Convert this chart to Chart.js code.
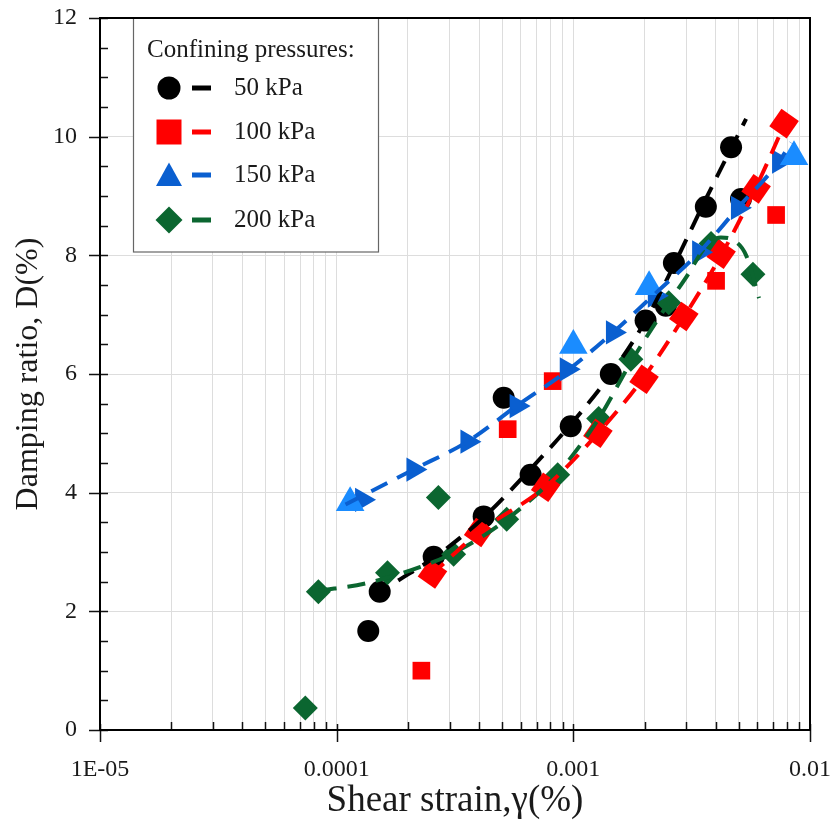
<!DOCTYPE html>
<html>
<head>
<meta charset="utf-8">
<script src="https://cdn.jsdelivr.net/npm/chart.js@4.4.1/dist/chart.umd.min.js"></script>
<style>
  body { margin: 0; background: #fff; }
  canvas { display: block; }
</style>
</head>
<body>
<canvas id="myChart" width="834" height="827"></canvas>
<script>
// values (strain in %, damping ratio in %)
const strain50 = [1.36e-4, 1.52e-4, 2.57e-4, 4.18e-4, 5.08e-4, 6.6e-4, 9.75e-4, 1.44e-3, 2.02e-3, 2.46e-3, 2.66e-3, 3.63e-3, 4.64e-3, 5.11e-3];
const damping50 = [1.67, 2.33, 2.92, 3.6, 5.6, 4.3, 5.12, 6.0, 6.9, 7.15, 7.87, 8.82, 9.82, 8.95];

const strain100 = [2.54e-4, 3.98e-4, 7.64e-4, 1.27e-3, 1.99e-3, 2.93e-3, 4.21e-3, 5.92e-3, 7.77e-3];
const damping100 = [2.63, 3.33, 4.09, 5.0, 5.91, 6.97, 8.02, 9.12, 10.22];
const strain100b = [2.28e-4, 5.28e-4, 8.18e-4, 4.01e-3, 7.19e-3];
const damping100b = [1.0, 5.07, 5.88, 7.57, 8.68];

const strain150 = [1.28e-4, 2.11e-4, 3.57e-4, 5.76e-4, 9.38e-4, 1.47e-3, 2.21e-3, 3.4e-3, 4.96e-3, 7.4e-3];
const damping150 = [3.88, 4.39, 4.86, 5.46, 6.08, 6.7, 7.32, 8.05, 8.8, 9.58];
const strain150b = [1.14e-4, 1.0e-3, 2.09e-3, 8.56e-3];
const damping150b = [3.83, 6.48, 7.47, 9.66];

const strain200 = [7.37e-5, 8.37e-5, 1.64e-4, 2.69e-4, 3.12e-4, 5.23e-4, 8.59e-4, 1.28e-3, 1.75e-3, 2.53e-3, 3.82e-3, 5.74e-3];
const damping200 = [0.37, 2.33, 2.65, 3.92, 2.96, 3.55, 4.3, 5.25, 6.25, 7.2, 8.2, 7.68];

// dashed trend curves
const fitStrain50 = [1.82e-4, 2.57e-4, 3.57e-4, 4.18e-4, 6.6e-4, 9.75e-4, 1.44e-3, 2.02e-3, 2.71e-3, 3.63e-3, 5.37e-3];
const fitDamping50 = [2.52, 2.9, 3.34, 3.58, 4.4, 5.15, 6.0, 6.9, 7.9, 8.95, 10.3];
const fitStrain100 = [2.49e-4, 3.98e-4, 7.64e-4, 1.27e-3, 1.99e-3, 2.93e-3, 4.21e-3, 5.92e-3, 8.08e-3];
const fitDamping100 = [2.6, 3.33, 4.1, 5.0, 5.95, 6.96, 8.0, 9.15, 10.35];
const fitStrain150 = [1.09e-4, 2.11e-4, 3.57e-4, 5.76e-4, 9.38e-4, 1.47e-3, 2.21e-3, 3.4e-3, 4.96e-3, 7.4e-3, 8.32e-3];
const fitDamping150 = [3.8, 4.39, 4.86, 5.46, 6.05, 6.7, 7.35, 8.05, 8.8, 9.58, 9.9];
const fitStrain200 = [8.4e-5, 1.32e-4, 2.26e-4, 3.18e-4, 5.23e-4, 8.6e-4, 1.28e-3, 1.75e-3, 2.53e-3, 3.02e-3, 3.63e-3, 4.2e-3, 4.77e-3, 5.37e-3, 6.09e-3];
const fitDamping200 = [2.35, 2.47, 2.75, 3.0, 3.55, 4.33, 5.25, 6.2, 7.2, 7.65, 8.15, 8.3, 8.25, 8.0, 7.28];

const xDecades = [1e-5, 1e-4, 1e-3, 1e-2];
const xTickLabels = ['1E-05', '0.0001', '0.001', '0.01'];
const yTicks = [0, 2, 4, 6, 8, 10, 12];
const legendTitle = 'Confining pressures:';
const legendLabels = ['50 kPa', '100 kPa', '150 kPa', '200 kPa'];

const FONT = '"Liberation Serif", "Times New Roman", serif';
const BLACK = '#000000', RED = '#ff0000', BLUE = '#0a5fd0', LIGHTBLUE = '#1a8cff', GREEN = '#0b6630';

const toPts = (xs, ys) => xs.map((x, i) => ({ x: x, y: ys[i] }));

// log grid positions 1..9 x 10^n
const xGrid = [];
for (let e = -5; e < -2; e++) {
    for (let m = 1; m <= 9; m++) xGrid.push(m * Math.pow(10, e));
}
xGrid.push(1e-2);
const isDecade = v => Math.abs(Math.log10(v) - Math.round(Math.log10(v))) < 1e-6;

function points(data, color, style, radius, rotation, order) {
    return {
        data: data, showLine: false, order: order,
        pointStyle: style, pointRadius: radius, pointRotation: rotation || 0,
        pointBackgroundColor: color, pointBorderColor: color, pointBorderWidth: 0
    };
}
function curve(data, color, order) {
    return {
        data: data, showLine: true, order: order, pointRadius: 0,
        borderColor: color, borderWidth: 4, borderDash: [18, 11],
        cubicInterpolationMode: 'monotone', fill: false
    };
}

const datasets = [
    curve(toPts(fitStrain150, fitDamping150), BLUE, 1),
    curve(toPts(fitStrain100, fitDamping100), RED, 2),
    curve(toPts(fitStrain200, fitDamping200), GREEN, 3),
    curve(toPts(fitStrain50, fitDamping50), BLACK, 4),
    points(toPts(strain150b, damping150b), LIGHTBLUE, 'triangle', 16.5, 0, 5),
    points(toPts(strain150, damping150), BLUE, 'triangle', 14, 90, 6),
    points(toPts(strain100, damping100), RED, 'rect', 15, 35, 7),
    points(toPts(strain100b, damping100b), RED, 'rect', 12.5, 0, 8),
    points(toPts(strain200, damping200), GREEN, 'rectRot', 12.5, 0, 9),
    points(toPts(strain50, damping50), BLACK, 'circle', 11, 0, 10)
];

// legend box inside the plot
const legendBox = {
    id: 'legendBox',
    afterDatasetsDraw(chart) {
        const ctx = chart.ctx, a = chart.chartArea;
        const left = a.left + 33, top = a.top, w = 245, h = 234;
        ctx.save();
        ctx.fillStyle = '#fff';
        ctx.fillRect(left, top, w, h);
        ctx.strokeStyle = '#666';
        ctx.lineWidth = 1.2;
        ctx.strokeRect(left + 0.5, top, w, h);
        ctx.fillStyle = '#1a1a1a';
        ctx.font = '25px ' + FONT;
        ctx.textBaseline = 'alphabetic';
        ctx.fillText(legendTitle, left + 14, top + 39);
        const colors = [BLACK, RED, BLUE, GREEN];
        const rows = [70, 114, 157, 202];
        legendLabels.forEach((lab, i) => {
            const y = top + rows[i], mx = left + 36;
            ctx.fillStyle = colors[i];
            ctx.beginPath();
            if (i === 0) {
                ctx.arc(mx, y, 11.5, 0, Math.PI * 2);
            } else if (i === 1) {
                ctx.rect(mx - 12.5, y - 12.5, 25, 25);
            } else if (i === 2) {
                ctx.moveTo(mx, y - 12.5);
                ctx.lineTo(mx + 13, y + 11);
                ctx.lineTo(mx - 13, y + 11);
                ctx.closePath();
            } else {
                ctx.moveTo(mx, y - 13.5);
                ctx.lineTo(mx + 13.5, y);
                ctx.lineTo(mx, y + 13.5);
                ctx.lineTo(mx - 13.5, y);
                ctx.closePath();
            }
            ctx.fill();
            ctx.fillRect(left + 59, y - 2.5, 19, 5);
            ctx.fillStyle = '#1a1a1a';
            ctx.textBaseline = 'middle';
            ctx.fillText(lab, left + 101, y);
        });
        ctx.restore();
    }
};

// frame and tick marks like the original figure
const frame = {
    id: 'frame',
    afterDraw(chart) {
        const ctx = chart.ctx, a = chart.chartArea;
        const xs = chart.scales.x, ys = chart.scales.y;
        ctx.save();
        ctx.strokeStyle = '#111';
        ctx.lineWidth = 1.5;
        ctx.beginPath();
        xGrid.forEach(v => {
            const px = Math.round(xs.getPixelForValue(v)) + 0.5;
            if (isDecade(v)) { ctx.moveTo(px, a.bottom - 6); ctx.lineTo(px, a.bottom + 12); }
            else { ctx.moveTo(px, a.bottom); ctx.lineTo(px, a.bottom - 8); }
        });
        for (let v = 0; v <= 12; v += 0.5) {
            const py = Math.round(ys.getPixelForValue(v)) + 0.5;
            if (v % 2 === 0) { ctx.moveTo(a.left - 11, py); ctx.lineTo(a.left + 8, py); }
            else { ctx.moveTo(a.left, py); ctx.lineTo(a.left + 8, py); }
        }
        ctx.stroke();
        ctx.lineWidth = 2;
        ctx.strokeStyle = '#000';
        ctx.strokeRect(a.left, a.top, a.right - a.left, a.bottom - a.top);
        ctx.restore();
    }
};

const ctx = document.getElementById('myChart').getContext('2d');
const myChart = new Chart(ctx, {
    type: 'scatter',
    data: { datasets: datasets },
    options: {
        responsive: false,
        animation: false,
        events: [],
        layout: { padding: { top: 18, right: 24, left: 0, bottom: 0 } },
        plugins: { legend: { display: false }, tooltip: { enabled: false } },
        scales: {
            x: {
                type: 'logarithmic', min: 1e-5, max: 1e-2,
                afterBuildTicks: s => { s.ticks = xGrid.map(v => ({ value: v })); },
                afterFit: s => { s.height = 97; s.paddingLeft = 0; s.paddingRight = 0; },
                grid: { color: '#dddddd', lineWidth: 1, drawTicks: false },
                border: { display: false },
                ticks: {
                    autoSkip: false, maxRotation: 0, padding: 25, color: '#1a1a1a',
                    font: { family: FONT, size: 24 },
                    callback: v => isDecade(v) ? xTickLabels[xDecades.findIndex(d => Math.abs(Math.log10(d) - Math.log10(v)) < 1e-6)] : ''
                },
                title: {
                    display: true, text: 'Shear strain,γ(%)', color: '#1a1a1a',
                    font: { family: FONT, size: 37 }, padding: { top: 0, bottom: 4 }
                }
            },
            y: {
                min: 0, max: 12,
                afterBuildTicks: s => { s.ticks = yTicks.map(v => ({ value: v })); },
                afterFit: s => { s.width = 100; s.paddingTop = 0; s.paddingBottom = 0; },
                grid: { color: '#dddddd', lineWidth: 1, drawTicks: false },
                border: { display: false },
                ticks: { padding: 23, color: '#1a1a1a', font: { family: FONT, size: 24 } },
                title: {
                    display: true, text: 'Damping ratio, D(%)', color: '#1a1a1a',
                    font: { family: FONT, size: 32 }, padding: { top: 9, bottom: 0 }
                }
            }
        }
    },
    plugins: [legendBox, frame]
});
</script>
</body>
</html>
